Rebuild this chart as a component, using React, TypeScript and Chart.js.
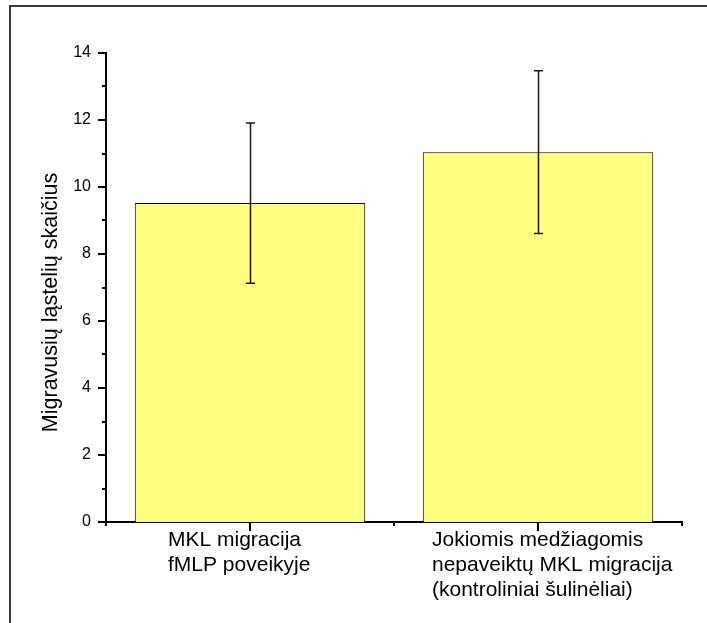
import React, { useEffect, useRef } from "react";
import { Chart, registerables } from "chart.js";

Chart.register(...registerables);

const categories: string[][] = [
  ["MKL migracija", "fMLP poveikyje"],
  ["Jokiomis medžiagomis", "nepaveiktų MKL migracija", "(kontroliniai šulinėliai)"],
];
const values: number[] = [9.52, 11.04];
const errors: number[] = [2.39, 2.43];
const yMin = 0;
const yMax = 14;
const yStep = 2;
const yTitle = "Migravusių ląstelių skaičius";

const FONT = "'Liberation Sans', Arial, sans-serif";
const labelOffsets = [-82, -106];

const customDraw = {
  id: "customDraw",
  beforeDraw(chart: any) {
    const ctx = chart.ctx;
    ctx.save();
    ctx.strokeStyle = "#3a3a3a";
    ctx.lineWidth = 2;
    ctx.beginPath();
    ctx.moveTo(10, 6);
    ctx.lineTo(chart.width, 6);
    ctx.moveTo(10, 5);
    ctx.lineTo(10, chart.height);
    ctx.stroke();
    ctx.restore();
  },
  afterDraw(chart: any) {
    const ctx = chart.ctx;
    const xs = chart.scales.x;
    const ys = chart.scales.y;
    ctx.save();
    // error bars
    ctx.strokeStyle = "#1a1a1a";
    ctx.lineWidth = 1.5;
    values.forEach((v, i) => {
      const px = Math.round(xs.getPixelForValue(i)) + 0.5;
      const top = ys.getPixelForValue(v + errors[i]);
      const bot = ys.getPixelForValue(v - errors[i]);
      ctx.beginPath();
      ctx.moveTo(px, top);
      ctx.lineTo(px, bot);
      ctx.moveTo(px - 4.5, top);
      ctx.lineTo(px + 4.5, top);
      ctx.moveTo(px - 4.5, bot);
      ctx.lineTo(px + 4.5, bot);
      ctx.stroke();
    });
    // y ticks
    ctx.strokeStyle = "#000";
    ctx.lineWidth = 2;
    const ax = ys.right;
    for (let v = yMin; v <= yMax; v += 1) {
      const py = Math.round(ys.getPixelForValue(v));
      const len = v % 2 === 0 ? 8 : 4;
      ctx.beginPath();
      ctx.moveTo(ax - len, py);
      ctx.lineTo(ax, py);
      ctx.stroke();
    }
    // x ticks
    const ay = xs.top;
    for (let i = -0.5; i <= categories.length - 0.5; i += 0.5) {
      const px = Math.round(xs.getPixelForValue(i));
      const major = Number.isInteger(i);
      const len = major ? 9 : 4;
      ctx.beginPath();
      ctx.moveTo(px, ay);
      ctx.lineTo(px, ay + len);
      ctx.stroke();
    }
    // x labels
    ctx.fillStyle = "#000";
    ctx.font = `21px ${FONT}`;
    ctx.textAlign = "left";
    ctx.textBaseline = "alphabetic";
    categories.forEach((lines, i) => {
      const px = xs.getPixelForValue(i) + labelOffsets[i];
      lines.forEach((line, j) => {
        ctx.fillText(line, px, ay + 24 + j * 25);
      });
    });
    // y title
    ctx.font = `21.5px ${FONT}`;
    ctx.textAlign = "center";
    ctx.textBaseline = "alphabetic";
    ctx.translate(57, (ys.top + ys.bottom) / 2 + 15);
    ctx.rotate(-Math.PI / 2);
    ctx.fillText(yTitle, 0, 0);
    ctx.restore();
  },
};

export default function App() {
  const ref = useRef<HTMLCanvasElement | null>(null);
  useEffect(() => {
    if (!ref.current) return;
    const chart = new Chart(ref.current, {
      type: "bar",
      data: {
        labels: categories.map((c) => c.join(" ")),
        datasets: [
          {
            data: values,
            backgroundColor: "#ffff80",
            borderColor: "#000",
            borderWidth: 1,
            barPercentage: 0.8,
            categoryPercentage: 1.0,
          },
        ],
      },
      options: {
        animation: false,
        responsive: false,
        devicePixelRatio: 1,
        layout: { padding: { left: 0, top: 53, right: 25, bottom: 0 } },
        plugins: { legend: { display: false }, tooltip: { enabled: false } },
        scales: {
          x: {
            type: "category",
            offset: true,
            grid: { display: false, drawTicks: false },
            border: { display: true, color: "#000", width: 2 },
            ticks: { display: false },
            afterFit: (s: any) => {
              s.height = 101;
            },
          },
          y: {
            min: yMin,
            max: yMax,
            grid: { display: false, drawTicks: false },
            border: { display: true, color: "#000", width: 2 },
            ticks: {
              stepSize: yStep,
              padding: 15,
              color: "#000",
              font: { family: FONT, size: 16 },
            },
            title: { display: false, text: yTitle },
            afterFit: (s: any) => {
              s.width = 106;
            },
          },
        },
      },
      plugins: [customDraw],
    });
    return () => chart.destroy();
  }, []);
  return (
    <div style={{ position: "absolute", left: 0, top: 0, width: 707, height: 623, overflow: "hidden", background: "#fff" }}>
      <canvas ref={ref} width={707} height={623} style={{ display: "block" }} />
    </div>
  );
}
